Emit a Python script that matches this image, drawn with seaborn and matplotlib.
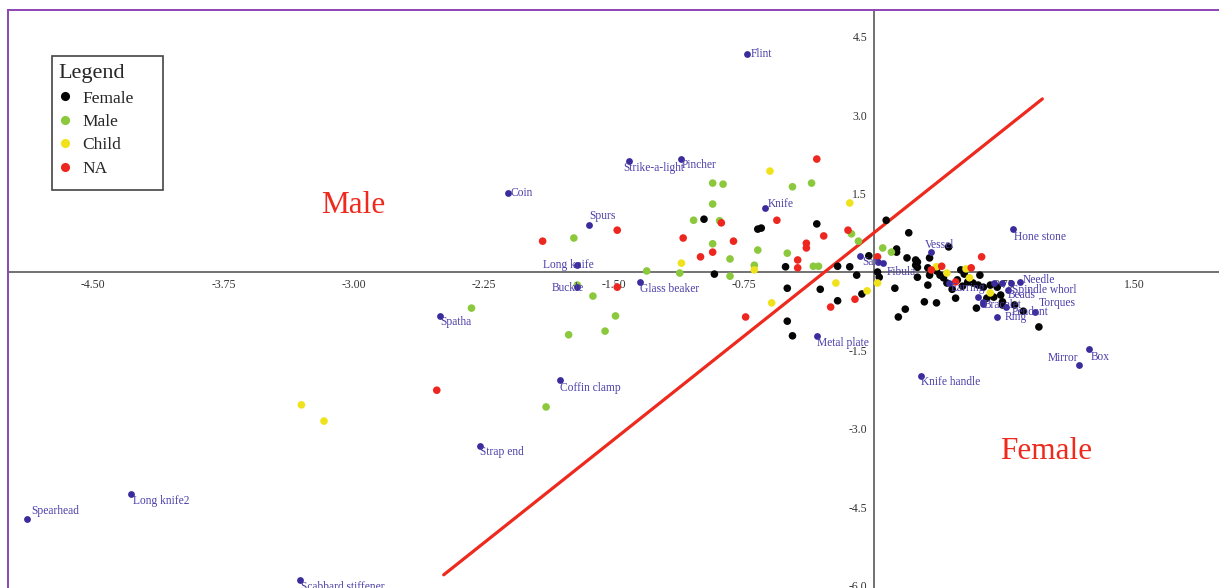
import matplotlib
matplotlib.use("Agg")
import matplotlib.pyplot as plt
from matplotlib.lines import Line2D
from matplotlib.patches import Rectangle
import pandas as pd
import seaborn as sns

# ---- burials (row scores), by sex group ----
female_x = [-0.98, -0.67, -0.65, -0.33, -0.51, -0.92, -0.50, -0.31, -0.21, -0.14,
            -0.10, -0.21, -0.07, -0.50, -0.47, 0.07, 0.20, 0.13, 0.13, -0.03,
            0.19, 0.24, 0.25, 0.24, 0.32, 0.43, 0.03, 0.02, 0.25, 0.12,
            0.31, 0.36, 0.29, 0.18, 0.14, 0.31, 0.36, 0.38, 0.40, 0.42,
            0.45, 0.47, 0.50, 0.52, 0.61, 0.54, 0.57, 0.60, 0.63, 0.59,
            0.69, 0.71, 0.73, 0.74, 0.74, 0.81, 0.86, 0.95, 0.48, 0.51,
            0.67, 0.65, 0.25, 0.32]
female_y = [1.01, 0.82, 0.84, 0.92, 0.10, -0.04, -0.31, -0.33, 0.11, 0.10,
            -0.06, -0.55, -0.42, -0.94, -1.22, 0.99, 0.75, 0.44, 0.38, 0.31,
            0.27, 0.23, 0.19, 0.13, 0.27, 0.48, -0.10, 0.00, -0.10, -0.31,
            -0.25, -0.59, -0.57, -0.71, -0.86, 0.08, 0.02, -0.06, -0.11, -0.21,
            -0.33, -0.50, 0.04, -0.04, -0.06, -0.19, -0.21, -0.25, -0.29, -0.69,
            -0.48, -0.29, -0.44, -0.57, -0.63, -0.63, -0.75, -1.05, -0.15, -0.27,
            -0.25, -0.50, 0.09, -0.06]

male_x = [-1.73, -1.04, -0.93, -0.87, -0.93, -0.89, -0.93, -0.83, -0.67, -0.69,
          -0.50, -0.47, -0.36, -0.13, -0.09, -0.35, -0.32, -1.12, -1.31, -0.83,
          0.05, 0.10, -1.62, -1.71, -2.32, -1.49, -1.55, -1.76, -1.89]
male_y = [0.65, 0.99, 1.70, 1.68, 1.30, 0.98, 0.54, 0.25, 0.42, 0.13,
          0.36, 1.63, 1.70, 0.73, 0.59, 0.11, 0.11, -0.02, 0.02, -0.08,
          0.46, 0.38, -0.46, -0.25, -0.69, -0.84, -1.13, -1.20, -2.58]

child_x = [-0.60, -0.14, -1.11, -0.69, -0.22, -0.04, -0.59, 0.02, -3.30, -3.17,
           0.36, 0.42, 0.53, 0.55, 0.67]
child_y = [1.93, 1.32, 0.17, 0.04, -0.21, -0.36, -0.59, -0.21, -2.54, -2.85,
           0.10, -0.02, 0.06, -0.11, -0.40]

na_x = [-1.91, -1.48, -1.10, -0.88, -0.81, -0.93, -1.00, -0.56, -0.44, -0.44,
        -0.39, -0.39, -0.33, -0.15, -0.29, -1.48, -0.74, -0.25, -0.11, -2.52,
        0.02, 0.62, 0.39, 0.56, 0.33, 0.47]
na_y = [0.59, 0.80, 0.65, 0.94, 0.59, 0.38, 0.29, 0.99, 0.23, 0.08,
        0.55, 0.46, 2.16, 0.80, 0.69, -0.29, -0.86, -0.67, -0.52, -2.26,
        0.29, 0.29, 0.11, 0.08, 0.04, -0.19]

# ---- grave goods (column scores) ----
item_names = ["Flint", "Strike-a-light", "Pincher", "Coin", "Spurs", "Knife",
              "Long knife", "Buckle", "Glass beaker", "Spatha", "Coffin clamp",
              "Strap end", "Long knife2", "Spearhead", "Scabbard stiffener",
              "Metal plate", "Knife handle", "Hone stone", "Vessel", "Sax",
              "Fibula", "Needle", "Spindle whorl", "Torques", "Ring", "Mirror",
              "Box", "Earring", "Beads", "Bracelet", "Pendant"]
item_x = [-0.73, -1.41, -1.11, -2.11, -1.64, -0.63, -1.71, -1.71, -1.35, -2.50,
          -1.81, -2.27, -4.28, -4.88, -3.31, -0.33, 0.27, 0.80, 0.33, -0.08,
          0.05, 0.84, 0.77, 0.93, 0.71, 1.18, 1.24, 0.43, 0.74, 0.63, 0.76]
item_y = [4.17, 2.12, 2.16, 1.51, 0.90, 1.22, 0.13, -0.29, -0.19, -0.84,
          -2.06, -3.33, -4.24, -4.72, -5.89, -1.22, -1.99, 0.82, 0.38, 0.31,
          0.17, -0.19, -0.34, -0.76, -0.86, -1.78, -1.47, -0.21, -0.21, -0.57, -0.67]
extra_item_x = [0.02, 0.60, 0.63, 0.69, 0.79]
extra_item_y = [0.19, -0.48, -0.61, -0.21, -0.21]

# ---- separating line and region titles ----
split_x = [-2.48, 0.97]
split_y = [-5.79, 3.31]
region_labels = ["Male", "Female"]
region_x = [-3.00, 0.99]
region_y = [1.28, -3.44]

x_ticks = [-4.50, -3.75, -3.00, -2.25, -1.50, -0.75, 0.75, 1.50]
y_ticks = [4.5, 3.0, 1.5, -1.5, -3.0, -4.5, -6.0]

group_order = ["Female", "Male", "Child", "NA"]
palette = {"Female": "#050505", "Male": "#8cc83c", "Child": "#f0e21a", "NA": "#ee2620"}
item_color = "#3a2c9c"
label_color = "#4b3ea8"
frame_color = "#8e44b4"
axis_color = "#5a5a5a"

# label placement (pixel offsets from the point)
label_offsets = {
    "Flint": (3, 0), "Strike-a-light": (-6, -7), "Pincher": (0, -6), "Coin": (3, 0),
    "Spurs": (0, 9), "Knife": (3, 4), "Long knife": (-34, 0), "Buckle": (-26, -1),
    "Glass beaker": (0, -7), "Spatha": (0, -6), "Coffin clamp": (0, -8),
    "Strap end": (0, -6), "Long knife2": (2, -7), "Spearhead": (4, 8),
    "Scabbard stiffener": (1, -7), "Metal plate": (0, -7), "Knife handle": (0, -6),
    "Hone stone": (1, -8), "Vessel": (-6, 7), "Sax": (2, -6), "Fibula": (4, -9),
    "Needle": (3, 2), "Spindle whorl": (4, 0), "Torques": (3, 9), "Ring": (7, 0),
    "Mirror": (-31, 7), "Box": (2, -8), "Earring": (2, -5), "Beads": (5, -12),
    "Bracelet": (0, -3), "Pendant": (6, -5),
}

sns.set_style("white")
plt.rcParams["font.family"] = ["Liberation Serif", "DejaVu Serif"]
plt.rcParams["axes.unicode_minus"] = False

frames = []
for name, xs, ys in [("Female", female_x, female_y), ("Male", male_x, male_y),
                     ("Child", child_x, child_y), ("NA", na_x, na_y)]:
    frames.append(pd.DataFrame({"x": xs, "y": ys, "group": name}))
burials = pd.concat(frames, ignore_index=True)
items = pd.DataFrame({"x": item_x + extra_item_x, "y": item_y + extra_item_y})

W, H = 1219, 588
AXW, AXH = W - 8, H - 10
fig = plt.figure(figsize=(W / 100, H / 100), dpi=100)
ax = fig.add_axes([8 / W, 0, AXW / W, AXH / H])
ax.set_xlim(-4.991, 1.988)
ax.set_ylim(-6.042, 5.010)

# separating line
sns.lineplot(x=split_x, y=split_y, ax=ax, color="#ee2a1e", linewidth=2.3,
             sort=False, zorder=2.7, legend=False)

sns.scatterplot(data=burials, x="x", y="y", hue="group", hue_order=group_order,
                palette=palette, s=30, linewidth=0, ax=ax, zorder=3)
sns.scatterplot(data=items, x="x", y="y", color=item_color, s=24, linewidth=0,
                ax=ax, zorder=4, legend=False)

for name, xv, yv in zip(item_names, item_x, item_y):
    dx, dy = label_offsets[name]
    ax.annotate(name, (xv, yv), xytext=(dx, dy), textcoords="offset pixels",
                ha="left", va="center", fontsize=8.3, color=label_color, zorder=5)

for txt, xv, yv in zip(region_labels, region_x, region_y):
    ax.text(xv, yv, txt, ha="center", va="center", fontsize=22.5,
            color="#ee2a1e", zorder=5)

# axes crossing at the origin
for side in ["left", "bottom"]:
    ax.spines[side].set_position(("data", 0))
    ax.spines[side].set_color(axis_color)
    ax.spines[side].set_linewidth(1.2)
    ax.spines[side].set_zorder(2.5)
ax.spines["right"].set_visible(False)
ax.spines["top"].set_color(frame_color)
ax.spines["top"].set_linewidth(1.4)
fig.add_artist(Line2D([8 / W, 8 / W], [0, AXH / H], color=frame_color,
                      linewidth=1.4, transform=fig.transFigure))

ax.set_xticks(x_ticks)
ax.set_xticklabels([f"{v:.2f}" for v in x_ticks])
ax.set_yticks(y_ticks)
ax.set_yticklabels([f"{v:.1f}" for v in y_ticks])
ax.tick_params(axis="both", direction="out", length=3, width=0.8, color=axis_color,
               labelsize=8.5, labelcolor="#333333", pad=2)
ax.set_xlabel("")
ax.set_ylabel("")

# legend box (frame drawn separately so it can be wider than the entries)
box_l, box_t, box_r, box_b = 52, 56, 163, 190
ax.add_patch(Rectangle(((box_l - 8) / AXW, 1 - (box_b - 10) / AXH),
                       (box_r - box_l) / AXW, (box_b - box_t) / AXH,
                       transform=ax.transAxes, facecolor="white",
                       edgecolor="#444444", linewidth=1.2, zorder=6))
handles, labels = ax.get_legend_handles_labels()
leg = ax.legend(handles, labels, title="Legend", loc="upper left",
                bbox_to_anchor=((box_l - 8) / AXW, 1 - (box_t + 2 - 10) / AXH),
                borderaxespad=0, frameon=False,
                prop={"size": 12.5}, title_fontsize=16, labelspacing=0.42,
                handlelength=0.8, handletextpad=0.6, borderpad=0.35,
                markerscale=1.2, alignment="left")
leg.set_zorder(7)

fig.savefig("out.png", dpi=100)
